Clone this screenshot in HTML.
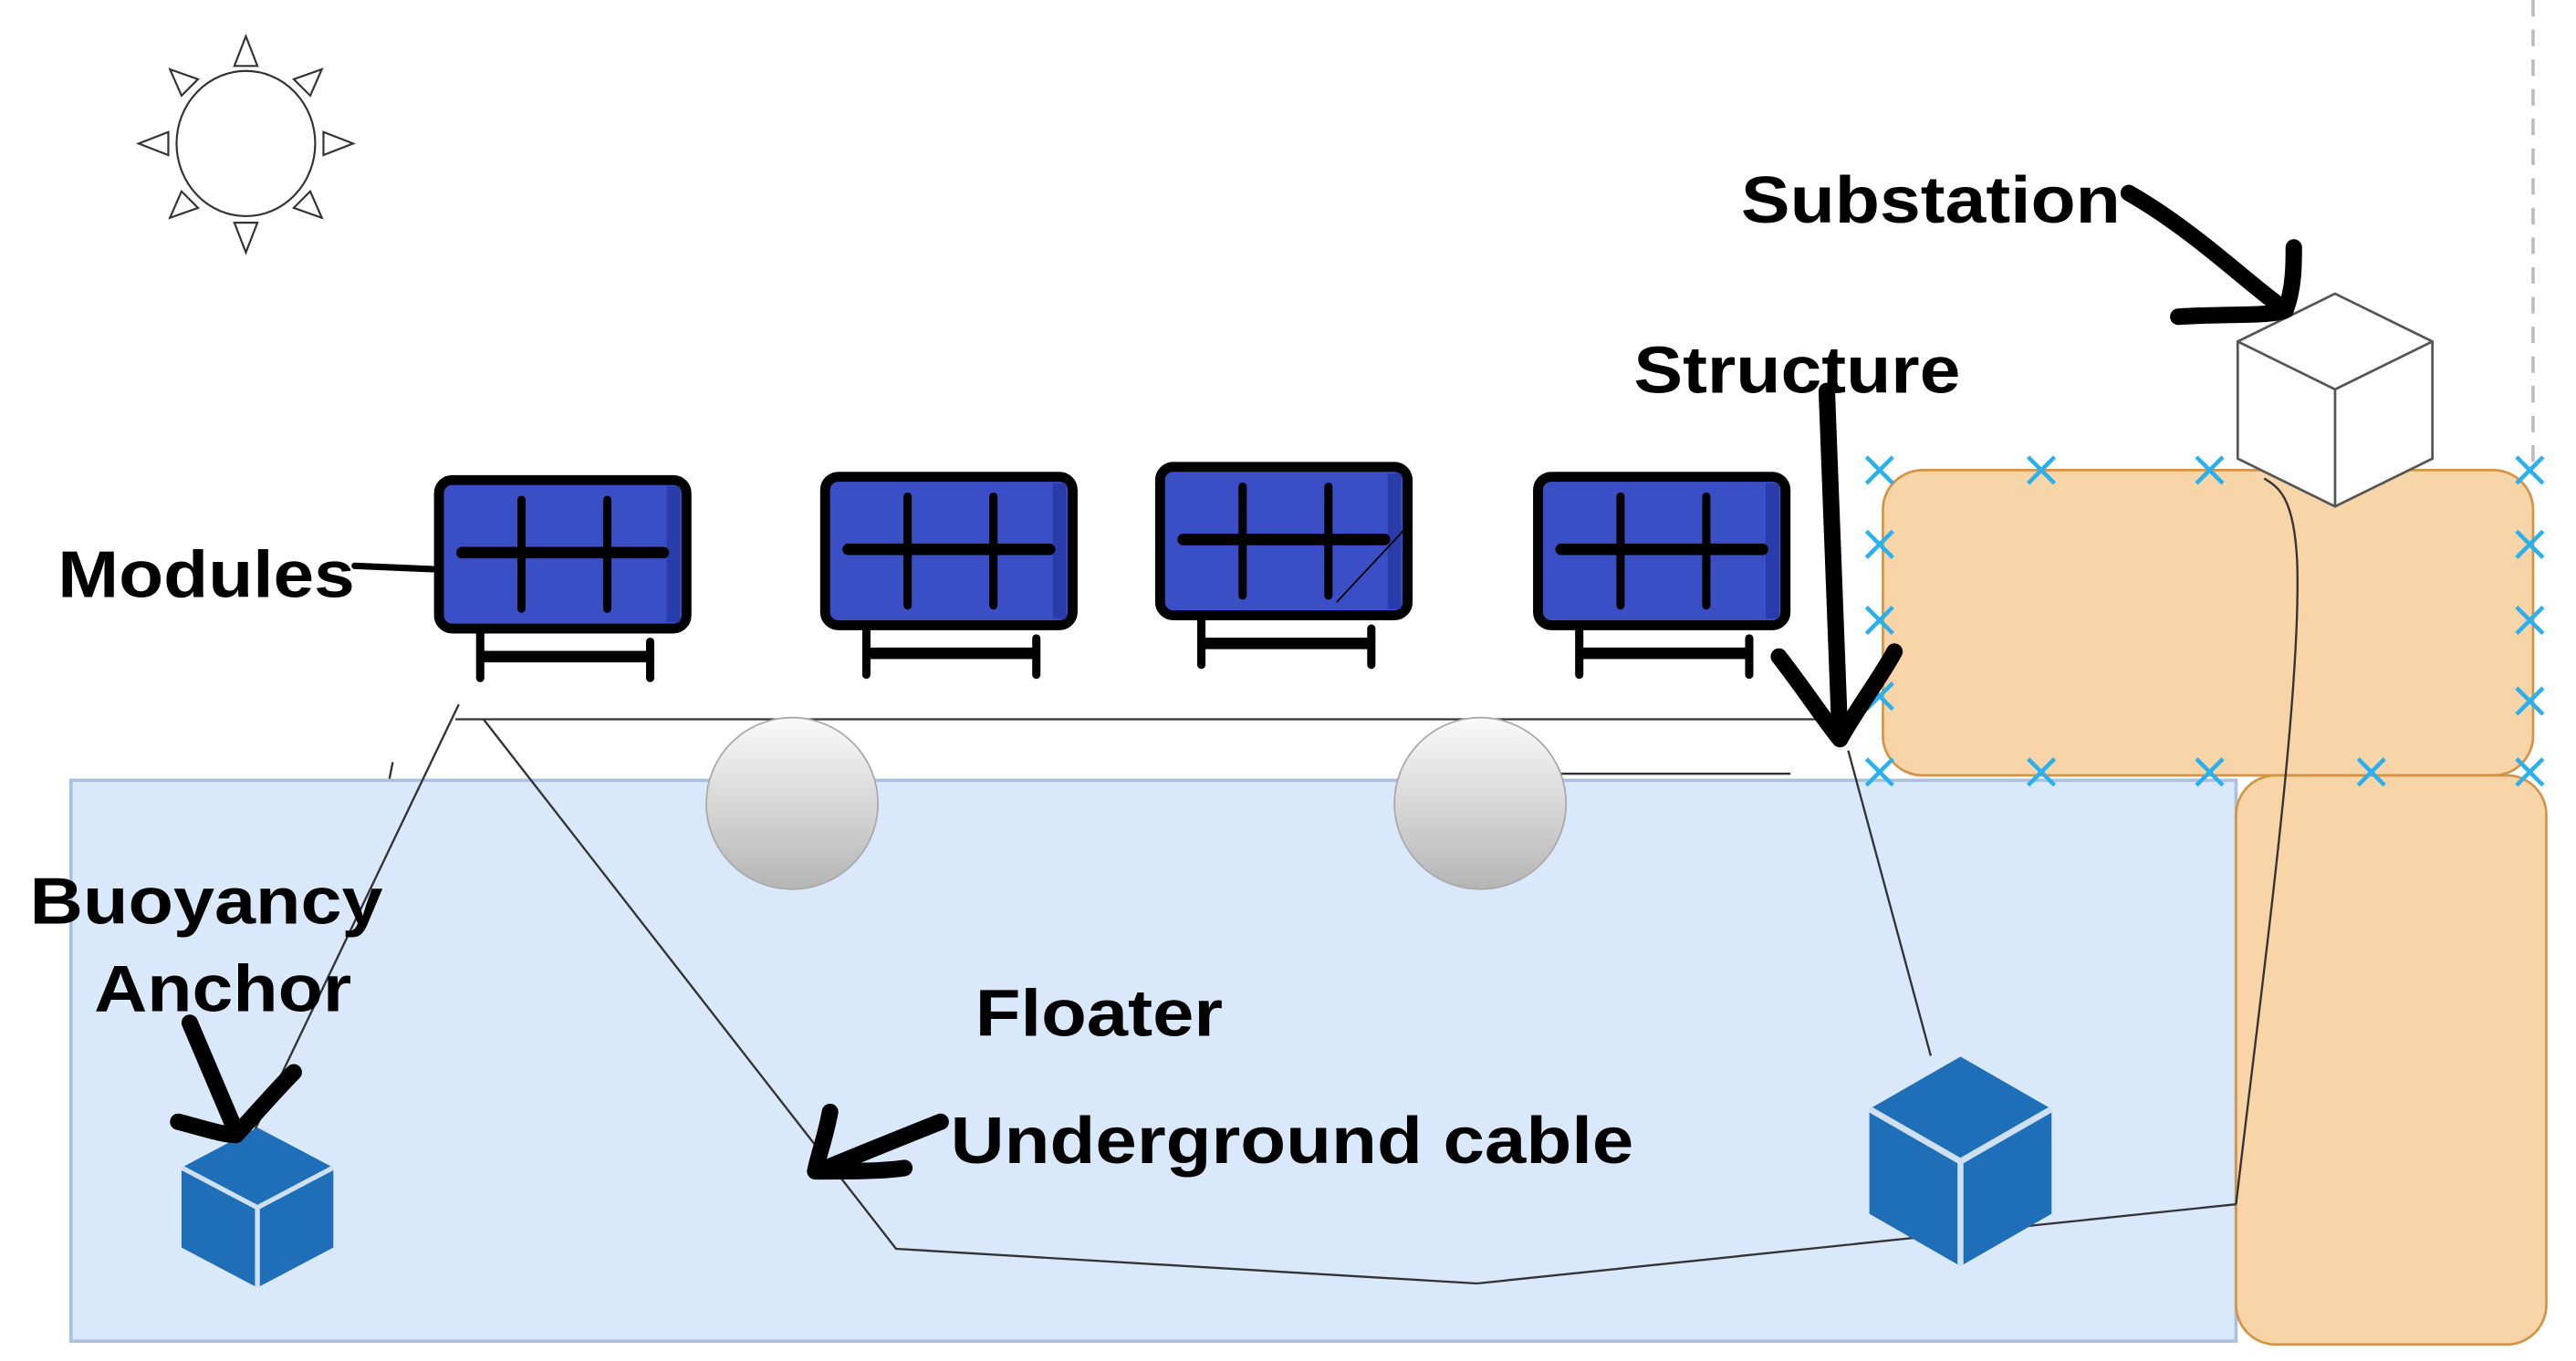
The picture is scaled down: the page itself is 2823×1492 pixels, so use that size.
<!DOCTYPE html>
<html><head><meta charset="utf-8"><style>html,body{margin:0;padding:0;background:#fff;overflow:hidden}svg{display:block}</style></head><body>
<svg width="2823" height="1492" viewBox="0 0 1561 825" preserveAspectRatio="none" xmlns="http://www.w3.org/2000/svg">
<defs>
<linearGradient id="g" x1="0" y1="0" x2="0" y2="1"><stop offset="0" stop-color="#fafafa"/><stop offset="1" stop-color="#b5b5b5"/></linearGradient>
<g id="mod">
<rect x="0" y="0" width="150" height="90" rx="8" fill="#3a4fc6" stroke="#000" stroke-width="6"/>
<rect x="138" y="4" width="8" height="82" fill="#2a3caa"/>
<line x1="14" y1="44" x2="136" y2="44" stroke="#000" stroke-width="7" stroke-linecap="round"/>
<line x1="50" y1="12" x2="50" y2="78" stroke="#000" stroke-width="5" stroke-linecap="round"/>
<line x1="102" y1="12" x2="102" y2="78" stroke="#000" stroke-width="5" stroke-linecap="round"/>
<line x1="25" y1="93" x2="25" y2="120" stroke="#000" stroke-width="5" stroke-linecap="round"/>
<line x1="128" y1="98" x2="128" y2="120" stroke="#000" stroke-width="5" stroke-linecap="round"/>
<line x1="25" y1="107" x2="128" y2="107" stroke="#000" stroke-width="7"/>
</g>
<g id="bc">
<polygon points="0,-50 46,-25 46,25 0,50 -46,25 -46,-25" fill="#1f6fb8"/>
<polyline points="-46,-25 0,0 46,-25" fill="none" stroke="#cfe0f2" stroke-width="3"/>
<line x1="0" y1="0" x2="0" y2="50" stroke="#cfe0f2" stroke-width="3"/>
</g>
</defs>
<rect x="43" y="473" width="1312" height="340" fill="#dae8fc" stroke="#a9c0e0" stroke-width="2"/>
<rect x="1141" y="285" width="394" height="185" rx="24" fill="#f8d5a9" stroke="#d39445" stroke-width="1.5"/>
<rect x="1355" y="470" width="188" height="345" rx="24" fill="#f8d5a9" stroke="#d39445" stroke-width="1.5"/>
<line x1="1535" y1="0" x2="1535" y2="280" stroke="#bbb" stroke-width="2" stroke-dasharray="10,8"/>
<g stroke="#2bb0ee" stroke-width="2.5">
<path d="M1131 277l16 16M1131 293l16-16 M1229 277l16 16M1229 293l16-16 M1331 277l16 16M1331 293l16-16 M1429 277l16 16M1429 293l16-16 M1525 277l16 16M1525 293l16-16
M1131 460l16 16M1131 476l16-16 M1229 460l16 16M1229 476l16-16 M1331 460l16 16M1331 476l16-16 M1429 460l16 16M1429 476l16-16 M1525 460l16 16M1525 476l16-16
M1131 322l16 16M1131 338l16-16 M1131 368l16 16M1131 384l16-16 M1131 414l16 16M1131 430l16-16
M1525 322l16 16M1525 338l16-16 M1525 368l16 16M1525 384l16-16 M1525 417l16 16M1525 433l16-16"/>
</g>
<g fill="#fff" stroke="#333" stroke-width="1.2">
<ellipse cx="149" cy="87" rx="42" ry="44"/>
<polygon points="149,22 142,40 156,40"/><polygon points="149,153 142,135 156,135"/>
<polygon points="84,87 102,80 102,94"/><polygon points="214,87 196,80 196,94"/>
<polygon points="103,42 110,58 120,48"/><polygon points="195,42 188,58 178,48"/>
<polygon points="103,132 110,116 120,126"/><polygon points="195,132 188,116 178,126"/>
</g>
<g fill="none" stroke="#333" stroke-width="1.3">
<line x1="276" y1="436" x2="1120" y2="436"/>
<line x1="940" y1="469" x2="1085" y2="469"/>
<line x1="278" y1="427" x2="152" y2="690"/>
<polyline points="293,436 543,757 895,778 1355,730"/>
<path d="M1355,730 C1370,600 1395,420 1392,340 C1390,300 1380,295 1372,290"/>
<line x1="1120" y1="455" x2="1170" y2="640"/>
<line x1="238" y1="462" x2="236" y2="472"/>
</g>
<circle cx="480" cy="487" r="52" fill="url(#g)" stroke="#aaa" stroke-width="1"/>
<circle cx="897" cy="487" r="52" fill="url(#g)" stroke="#aaa" stroke-width="1"/>
<use href="#mod" x="266" y="291"/>
<use href="#mod" x="500" y="289"/>
<use href="#mod" x="703" y="283"/>
<use href="#mod" x="932" y="289"/>
<line x1="810" y1="365" x2="852" y2="320" stroke="#000" stroke-width="1"/>
<g fill="#fff" stroke="#555" stroke-width="1.5">
<polygon points="1415,178 1474,207 1474,278 1415,307 1356,278 1356,207"/>
<polyline points="1356,207 1415,236 1474,207" fill="none"/>
<line x1="1415" y1="236" x2="1415" y2="307"/>
</g>
<use href="#bc" transform="translate(156,732) scale(1,0.97)"/>
<use href="#bc" transform="translate(1188,704) scale(1.2,1.27)"/>
<g fill="none" stroke="#000" stroke-width="10" stroke-linecap="round" stroke-linejoin="round">
<path d="M1290,117 C1330,140 1360,170 1385,188"/>
<path d="M1320,192 C1350,190 1375,192 1385,188 C1390,175 1390,160 1390,150"/>
<path d="M1107,237 L1115,448"/>
<path d="M1078,398 C1095,420 1108,440 1115,448 C1125,430 1140,410 1148,395"/>
<path d="M115,620 L143,686"/>
<path d="M108,680 C120,683 135,688 143,688 C155,675 168,660 178,650"/>
<path d="M570,680 C545,690 520,700 496,710"/>
<path d="M503,674 C500,690 496,700 494,710 C515,710 535,710 548,708"/>
</g>
<path d="M215,343 L262,345" stroke="#000" stroke-width="4" stroke-linecap="round"/>
<g font-family="'Liberation Sans', Arial, sans-serif" font-weight="bold" font-size="40" fill="#000">
<text x="35" y="362" textLength="180" lengthAdjust="spacingAndGlyphs">Modules</text>
<text x="1055" y="135" textLength="230" lengthAdjust="spacingAndGlyphs">Substation</text>
<text x="990" y="238" textLength="198" lengthAdjust="spacingAndGlyphs">Structure</text>
<text x="18" y="560" textLength="214" lengthAdjust="spacingAndGlyphs">Buoyancy</text>
<text x="57" y="613" textLength="156" lengthAdjust="spacingAndGlyphs">Anchor</text>
<text x="591" y="628" textLength="150" lengthAdjust="spacingAndGlyphs">Floater</text>
<text x="576" y="705" textLength="414" lengthAdjust="spacingAndGlyphs">Underground cable</text>
</g>
</svg>
</body></html>
